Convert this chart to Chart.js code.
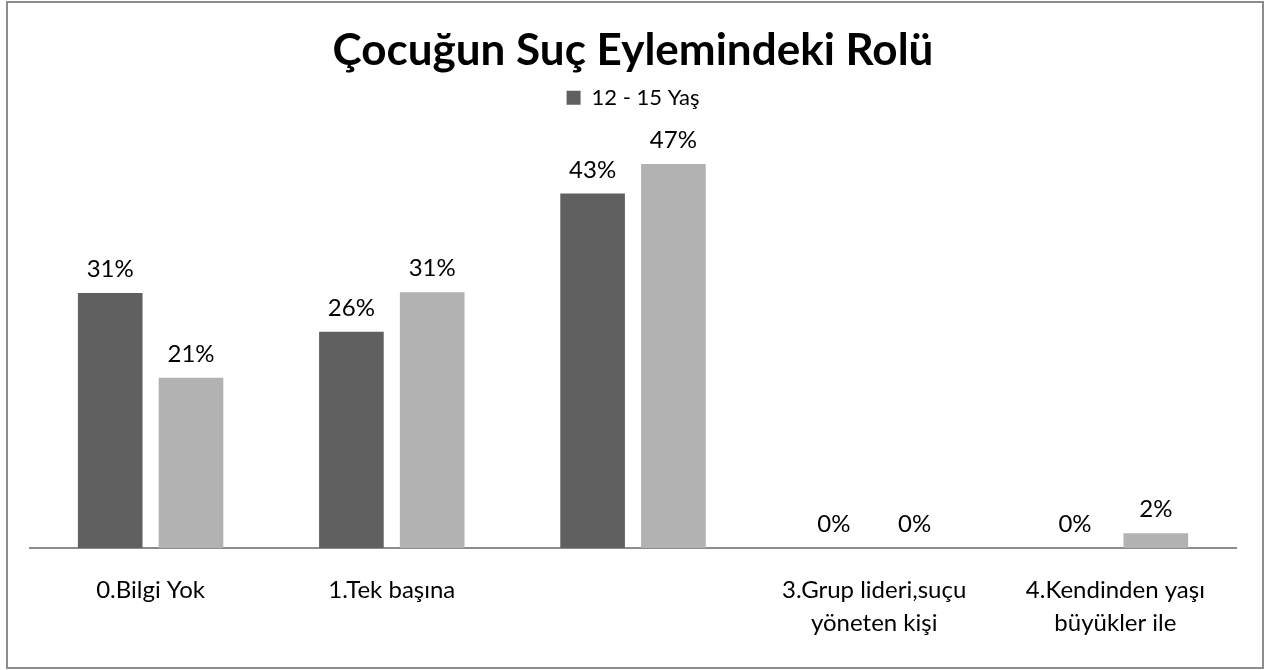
<!DOCTYPE html>
<html>
<head>
<meta charset="utf-8">
<script src="https://cdn.jsdelivr.net/npm/chart.js@4.4.0/dist/chart.umd.min.js"></script>
<style>
  body { margin: 0; background: #fff; }
  #wrap { position: relative; width: 1269px; height: 670px; }
  #frame { position: absolute; left: 6px; top: 1px; width: 1258px; height: 668px;
           box-sizing: border-box; border: 2px solid #8c8c8c; pointer-events: none; }
  canvas { position: absolute; left: 0; top: 0; }
</style>
</head>
<body>
<div id="wrap">
  <canvas id="chart" width="1269" height="670"></canvas>
  <div id="frame"></div>
</div>
<script>
// values (percent)
const categories = [
  '0.Bilgi Yok',
  '1.Tek başına',
  '',
  ['3.Grup lideri,suçu', 'yöneten kişi'],
  ['4.Kendinden yaşı', 'büyükler ile']
];
const age12to15 = [31.0, 26.3, 43.1, 0, 0];
const otherGroup = [20.7, 31.1, 46.7, 0, 1.8];

const FONT = 'Lato, "Open Sans", sans-serif';

// value labels above each bar
const barLabels = {
  id: 'barLabels',
  afterDatasetsDraw(chart) {
    const ctx = chart.ctx;
    ctx.save();
    ctx.font = '24px ' + FONT;
    ctx.fillStyle = '#000';
    ctx.textAlign = 'center';
    ctx.textBaseline = 'alphabetic';
    chart.data.datasets.forEach((ds, i) => {
      chart.getDatasetMeta(i).data.forEach((bar, j) => {
        ctx.fillText(Math.round(ds.data[j]) + '%', bar.x, bar.y - 16);
      });
    });
    ctx.restore();
  }
};

new Chart(document.getElementById('chart'), {
  type: 'bar',
  data: {
    labels: categories,
    datasets: [
      {
        label: '12 - 15 Yaş',
        data: age12to15,
        backgroundColor: '#606060',
        categoryPercentage: 0.67,
        barPercentage: 0.8
      },
      {
        label: '',
        data: otherGroup,
        backgroundColor: '#b2b2b2',
        categoryPercentage: 0.67,
        barPercentage: 0.8
      }
    ]
  },
  plugins: [barLabels],
  options: {
    responsive: false,
    animation: false,
    layout: { padding: { left: 30, right: 33, top: 0, bottom: 0 } },
    plugins: {
      title: {
        display: true,
        text: 'Çocuğun Suç Eylemindeki Rolü',
        color: '#000',
        font: { family: FONT, size: 44, weight: 'bold', lineHeight: 1.2 },
        padding: { top: 24, bottom: 0 }
      },
      legend: {
        display: true,
        labels: {
          color: '#000',
          font: { family: FONT, size: 22 },
          boxWidth: 14,
          boxHeight: 14,
          padding: 10,
          filter: item => item.text !== ''
        }
      },
      tooltip: { enabled: false }
    },
    scales: {
      x: {
        grid: { display: false, drawTicks: false },
        border: { display: true, color: '#8c8c8c', width: 2 },
        ticks: {
          color: '#000',
          font: { family: FONT, size: 24, lineHeight: '33px' },
          padding: 26,
          maxRotation: 0,
          autoSkip: false
        },
        afterFit: s => { s.height = 122; }
      },
      y: {
        display: false,
        min: 0,
        max: 52.2
      }
    }
  }
});
</script>
</body>
</html>
